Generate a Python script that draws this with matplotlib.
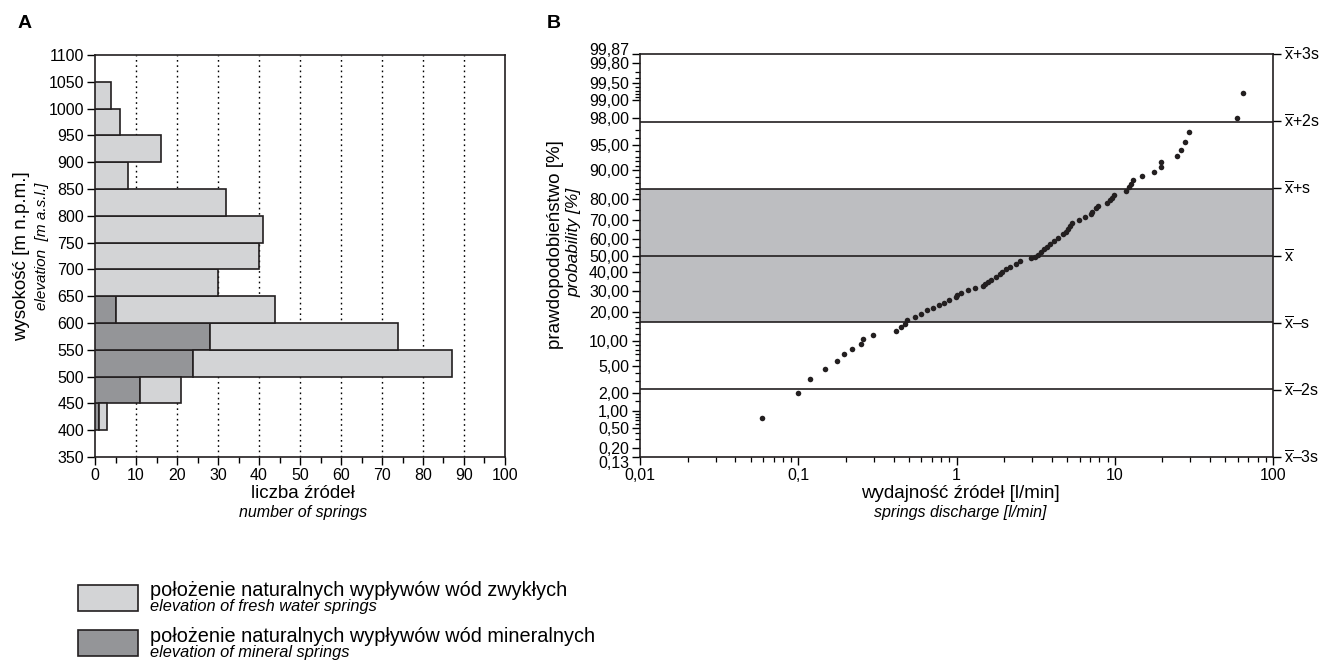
import matplotlib
matplotlib.use('Agg')
import matplotlib.pyplot as plt
import matplotlib.transforms as mtransforms
import numpy as np
from statistics import NormalDist
from matplotlib.patches import Rectangle
from matplotlib.ticker import FixedLocator, NullFormatter

plt.rcParams['font.family'] = ['Liberation Sans', 'DejaVu Sans']
plt.rcParams['mathtext.fontset'] = 'custom'
plt.rcParams['mathtext.rm'] = 'Liberation Sans'
plt.rcParams['mathtext.it'] = 'Liberation Sans:italic'

# ---------------- Panel A data ----------------
elev_lower = [400, 450, 500, 550, 600, 650, 700, 750, 800, 850, 900, 950, 1000]
mineral_counts = [1, 11, 24, 28, 5, 0, 0, 0, 0, 0, 0, 0, 0]
fresh_counts = [2, 10, 63, 46, 39, 30, 40, 41, 32, 8, 16, 6, 4]
elev_ticks = list(range(350, 1101, 50))
count_ticks = list(range(0, 101, 10))

# ---------------- Panel B data ----------------
discharge = [0.059, 0.100, 0.118, 0.148, 0.177, 0.196, 0.219, 0.248, 0.255, 0.296,
             0.413, 0.449, 0.473, 0.490, 0.545, 0.594, 0.652, 0.711, 0.773, 0.830,
             0.893, 0.989, 1.007, 1.067, 1.189, 1.303, 1.469, 1.522, 1.580, 1.644,
             1.786, 1.893, 1.949, 2.054, 2.183, 2.365, 2.531, 2.940, 3.118, 3.273,
             3.436, 3.556, 3.726, 3.915, 4.108, 4.352, 4.700, 4.939, 5.086, 5.236,
             5.373, 5.906, 6.444, 7.03, 7.19, 7.64, 7.87, 8.87, 9.37, 9.64,
             9.87, 11.83, 12.23, 12.59, 13.01, 14.79, 17.69, 19.54, 19.74, 24.66,
             26.21, 27.80, 29.66, 59.2, 64.6]
probability = [0.77, 2.01, 3.27, 4.52, 5.70, 6.99, 8.21, 9.39, 10.70, 11.84,
               13.06, 14.37, 15.41, 16.60, 18.00, 19.08, 20.58, 21.74, 22.93, 23.98,
               25.24, 26.84, 27.68, 28.99, 30.22, 31.28, 32.66, 33.73, 34.68, 35.76,
               37.28, 38.98, 40.29, 41.86, 43.02, 44.67, 46.74, 48.34, 49.23, 50.59,
               52.37, 53.68, 55.21, 57.09, 58.54, 60.27, 62.38, 63.50, 65.17, 66.97,
               68.57, 69.98, 71.91, 73.17, 74.37, 76.02, 77.16, 78.40, 79.56, 80.68,
               81.88, 83.25, 84.59, 85.63, 86.94, 88.16, 89.38, 90.61, 91.79, 93.07,
               94.30, 95.51, 96.73, 97.99, 99.24]
prob_major = [0.13, 0.2, 0.5, 1, 2, 5, 10, 20, 30, 40, 50, 60, 70, 80, 90, 95, 98, 99, 99.5, 99.8, 99.87]
prob_major_labels = ['0,13', '0,20', '0,50', '1,00', '2,00', '5,00', '10,00', '20,00', '30,00',
                     '40,00', '50,00', '60,00', '70,00', '80,00', '90,00', '95,00', '98,00',
                     '99,00', '99,50', '99,80', '99,87']
prob_minor = ([0.3, 0.4, 0.6, 0.7, 0.8, 0.9, 1.5, 3, 4, 6, 7, 8, 9, 12, 14, 16, 18,
               25, 35, 45, 55, 65, 75, 82, 84, 86, 88, 91, 92, 93, 94, 96, 97,
               99.1, 99.2, 99.3, 99.4, 99.6, 99.7])
sigma_levels = [-3, -2, -1, 0, 1, 2, 3]
sigma_labels = [r'$\overline{\mathrm{x}}$–3s', r'$\overline{\mathrm{x}}$–2s', r'$\overline{\mathrm{x}}$–s',
                r'$\overline{\mathrm{x}}$', r'$\overline{\mathrm{x}}$+s', r'$\overline{\mathrm{x}}$+2s',
                r'$\overline{\mathrm{x}}$+3s']
x_major = [0.01, 0.1, 1, 10, 100]
x_major_labels = ['0,01', '0,1', '1', '10', '100']

LIGHT = '#d3d4d6'
DARK = '#949598'
BAND = '#bdbec1'
EDGE = '#231f20'

W, H = 1321, 671
fig = plt.figure(figsize=(W / 100, H / 100), dpi=100)


def fx(px):
    return px / W


def fy(py):
    return 1 - py / H


# ---------------- Panel A ----------------
axA = fig.add_axes([fx(95), fy(457), fx(505) - fx(95), fy(55) - fy(457)])
for x in count_ticks[1:-1]:
    axA.axvline(x, color='black', lw=1.0, ls=(0, (1.2, 2.6)), zorder=1)
axA.barh(elev_lower, mineral_counts, height=50, align='edge', color=DARK,
         edgecolor=EDGE, lw=1.2, zorder=3)
axA.barh(elev_lower, fresh_counts, left=mineral_counts, height=50, align='edge',
         color=LIGHT, edgecolor=EDGE, lw=1.2, zorder=3)
axA.set_xlim(0, 100)
axA.set_ylim(350, 1100)
axA.set_yticks(elev_ticks)
axA.set_xticks(count_ticks)
axA.xaxis.set_minor_locator(FixedLocator(list(range(5, 100, 10))))
axA.tick_params(axis='both', which='major', direction='out', length=6, width=1, labelsize=11.5, pad=2)
axA.tick_params(axis='x', which='minor', direction='out', length=4, width=1)
for s in axA.spines.values():
    s.set_linewidth(1.2)
    s.set_color(EDGE)

# ---------------- Panel B ----------------
nd = NormalDist()


def z_of(p):
    return nd.inv_cdf(p / 100.0)


axB = fig.add_axes([fx(640), fy(457), fx(1273) - fx(640), fy(54) - fy(457)])
axB.set_xscale('log')
axB.set_xlim(0.01, 100)
axB.set_ylim(-3, 3)
axB.axhspan(-1, 1, color=BAND, zorder=0, lw=0)
for s in sigma_levels[1:-1]:
    axB.axhline(s, color=EDGE, lw=1.2, zorder=1)
zs = [z_of(p) for p in probability]
axB.scatter(discharge, zs, s=16, color=EDGE, zorder=3, lw=0)
axB.set_yticks([z_of(p) for p in prob_major])
axB.set_yticklabels(prob_major_labels)
axB.yaxis.set_minor_locator(FixedLocator([z_of(p) for p in prob_minor]))
axB.yaxis.set_minor_formatter(NullFormatter())
axB.set_xticks(x_major)
axB.set_xticklabels(x_major_labels)
axB.tick_params(axis='both', which='major', direction='out', length=6, width=1, labelsize=11.5, pad=2)
axB.tick_params(axis='both', which='minor', direction='out', length=3.5, width=0.9)
for s in axB.spines.values():
    s.set_linewidth(1.2)
    s.set_color(EDGE)

# nudge the crowded extreme labels apart (as in the reference)
ylabels = axB.get_yticklabels()
up = mtransforms.ScaledTranslation(0, 5 / 100, fig.dpi_scale_trans)
down = mtransforms.ScaledTranslation(0, -5 / 100, fig.dpi_scale_trans)
ylabels[-1].set_transform(ylabels[-1].get_transform() + up)
ylabels[0].set_transform(ylabels[0].get_transform() + down)

axR = axB.twinx()
axR.set_ylim(-3, 3)
axR.set_yticks(sigma_levels)
axR.set_yticklabels(sigma_labels)
axR.tick_params(axis='y', direction='out', length=6, width=1, labelsize=11.5, pad=2)
for s in axR.spines.values():
    s.set_visible(False)

# ---------------- Texts ----------------
fig.text(fx(18), fy(24), 'A', fontsize=14, fontweight='bold', va='center', ha='left')
fig.text(fx(547), fy(24), 'B', fontsize=14, fontweight='bold', va='center', ha='left')

fig.text(fx(22), fy(256), 'wysokość [m n.p.m.]', rotation=90, fontsize=13.5, va='center', ha='center')
fig.text(fx(42), fy(246), 'elevation  [m a.s.l.]', rotation=90, fontsize=11, style='italic',
         va='center', ha='center')
fig.text(fx(303), fy(494), 'liczba źródeł', fontsize=13.5, va='center', ha='center')
fig.text(fx(303), fy(512), 'number of springs', fontsize=11.5, style='italic', va='center', ha='center')

fig.text(fx(555), fy(245), 'prawdopodobieństwo [%]', rotation=90, fontsize=13.5, va='center', ha='center')
fig.text(fx(574), fy(242), 'probability [%]', rotation=90, fontsize=12.5, style='italic',
         va='center', ha='center')
fig.text(fx(960), fy(494), 'wydajność źródeł [l/min]', fontsize=13.5, va='center', ha='center')
fig.text(fx(960), fy(512), 'springs discharge [l/min]', fontsize=11.5, style='italic', va='center', ha='center')

# ---------------- Legend ----------------
legend_items = [('położenie naturalnych wypływów wód zwykłych', 'elevation of fresh water springs', LIGHT),
                ('położenie naturalnych wypływów wód mineralnych', 'elevation of mineral springs', DARK)]
for i, (pl, en, col) in enumerate(legend_items):
    top = 585 + i * 45
    fig.patches.append(Rectangle((fx(78), fy(top + 26)), fx(138) - fx(78), fy(top) - fy(top + 26),
                                 transform=fig.transFigure, facecolor=col, edgecolor=EDGE, lw=1.2))
    fig.text(fx(150), fy(top + 6), pl, fontsize=14.3, va='center', ha='left')
    fig.text(fx(150), fy(top + 22), en, fontsize=11.8, style='italic', va='center', ha='left')

fig.savefig('out.png', dpi=100)
